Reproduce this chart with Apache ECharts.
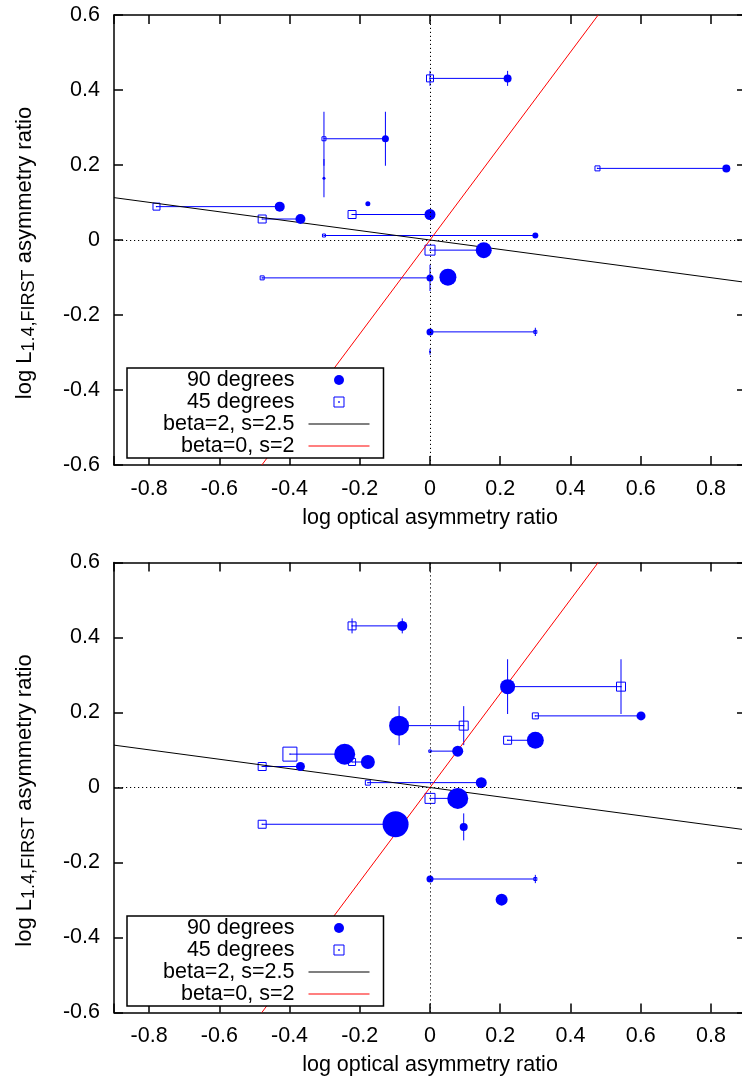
<!DOCTYPE html>
<html>
<head>
<meta charset="utf-8">
<script src="https://cdn.jsdelivr.net/npm/echarts@6/dist/echarts.min.js"></script>
<style>
html,body{margin:0;padding:0;background:#fff;}
#c{width:742px;height:1084px;}
</style>
</head>
<body>
<div id="c"></div>
<script>
// ---------------- data ----------------
const xTickLabels = ['-0.8','-0.6','-0.4','-0.2','0','0.2','0.4','0.6','0.8'];
const yTickLabels = ['-0.6','-0.4','-0.2','0','0.2','0.4','0.6'];
const xRange = [-0.9, 0.9];
const yRange = [-0.6, 0.6];

// top panel: radio asymmetry (y), optical asymmetry at 90 and 45 degrees (x), point sizes, y errors
const topY    = [0.431, 0.270, 0.191, 0.165, 0.097, 0.089, 0.068, 0.056, 0.012, -0.027, -0.099, -0.101, -0.245, -0.298];
const topX90  = [0.221, -0.127, 0.844, -0.302, -0.177, -0.428, 0.000, -0.369, 0.300, 0.153, 0.051, 0.000, 0.000, 0.000];
const topX45  = [0.000, -0.302, 0.477, null, null, -0.779, -0.222, -0.478, -0.302, 0.000, null, -0.478, 0.300, null];
const topPs90 = [2.0, 1.75, 2.0, 0.75, 1.25, 2.5, 2.75, 2.5, 1.5, 4.0, 4.25, 1.75, 1.75, 0.5];
const topPs45 = [1.75, 1.0, 1.25, null, null, 1.75, 2.0, 2.0, 0.75, 2.5, null, 1.0, 0.75, null];
const topE90  = [0.020, 0.072, 0, 0.051, 0, 0, 0, 0, 0, 0, 0, 0.035, 0, 0.008];
const topE45  = [0.020, 0.072, 0, 0, 0, 0, 0, 0, 0, 0, 0, 0, 0.011, 0];

// bottom panel
const botY    = [0.431, 0.269, 0.191, 0.165, 0.126, 0.097, 0.089, 0.068, 0.056, 0.013, -0.029, -0.098, -0.105, -0.244, -0.299];
const botX90  = [-0.079, 0.221, 0.601, -0.088, 0.300, 0.079, -0.243, -0.177, -0.369, 0.146, 0.079, -0.098, 0.096, 0.000, 0.204];
const botX45  = [-0.222, 0.544, 0.300, 0.096, 0.221, 0.000, -0.399, -0.222, -0.478, -0.177, 0.000, -0.478, null, 0.300, null];
const botPs90 = [2.5, 3.75, 2.25, 5.0, 4.25, 2.75, 5.25, 3.5, 2.25, 2.75, 5.25, 6.5, 2.0, 1.75, 3.0];
const botPs45 = [2.0, 2.25, 1.5, 2.25, 2.0, 0.6, 3.5, 1.75, 2.0, 1.25, 2.5, 2.0, null, 0.75, null];
const botE90  = [0.020, 0.073, 0, 0.052, 0, 0, 0, 0, 0, 0, 0, 0, 0.036, 0, 0];
const botE45  = [0.020, 0.073, 0, 0.052, 0, 0, 0, 0, 0, 0, 0, 0, 0, 0.011, 0];

// model lines (end points)
const blackLine = [[-0.9, 0.113], [0.9, -0.113]];
const redLine   = [[-0.479, -0.6], [0.479, 0.6]];

const seriesNames = ['90 degrees', '45 degrees', 'beta=2, s=2.5', 'beta=0, s=2'];

// ---------------- styling ----------------
const FONT = "'Liberation Sans', Arial, Helvetica, sans-serif";
const BLUE = '#0000ff';
const PS = 4; // px per point-size unit
const FS = 21.5;

function fmt(v) {
  const r = Math.round(v * 10) / 10;
  return (Math.abs(r) < 1e-9 ? 0 : r).toString();
}
function xFormatter(v) { const s = fmt(v); return xTickLabels.indexOf(s) >= 0 ? s : ''; }
function yFormatter(v) { const s = fmt(v); return yTickLabels.indexOf(s) >= 0 ? s : ''; }

const grids = [
  {left: 114, top: 15, width: 632, height: 450, outerBoundsMode: 'none', containLabel: false},
  {left: 114, top: 562.5, width: 632, height: 450, outerBoundsMode: 'none', containLabel: false}
];

const axisLine = {show: true, onZero: false, lineStyle: {color: '#000', width: 1.5}};
const axisTick = {show: true, inside: true, length: 9, lineStyle: {color: '#000', width: 1.5}};

const xAxes = [], yAxes = [];
[0, 1].forEach(g => {
  xAxes.push({
    gridIndex: g, type: 'value', position: 'bottom', min: xRange[0], max: xRange[1], splitNumber: 9,
    axisLine, axisTick, splitLine: {show: false},
    axisLabel: {margin: 13, fontSize: FS, fontFamily: FONT, color: '#000', formatter: xFormatter, showMinLabel: true, showMaxLabel: true, hideOverlap: false},
    name: 'log optical asymmetry ratio', nameLocation: 'middle', nameGap: 42, nameMoveOverlap: false,
    nameTextStyle: {fontSize: FS, fontFamily: FONT, color: '#000'}
  });
  xAxes.push({
    gridIndex: g, type: 'value', position: 'top', min: xRange[0], max: xRange[1], splitNumber: 9,
    axisLine, axisTick, splitLine: {show: false}, axisLabel: {show: false}
  });
  yAxes.push({
    gridIndex: g, type: 'value', position: 'left', min: yRange[0], max: yRange[1], interval: 0.2,
    axisLine, axisTick, splitLine: {show: false},
    axisLabel: {margin: 14, fontSize: FS, fontFamily: FONT, color: '#000', formatter: yFormatter, hideOverlap: false},
    name: '{a|log L}{s|1.4,FIRST}{a| asymmetry ratio}', nameLocation: 'middle', nameRotate: 90, nameGap: 76, nameMoveOverlap: false,
    nameTextStyle: {
      fontSize: 22, fontFamily: FONT, color: '#000', padding: [0, 26, 0, 0],
      rich: {
        a: {fontSize: 22, fontFamily: FONT, color: '#000', lineHeight: 26},
        s: {fontSize: 18, fontFamily: FONT, color: '#000', lineHeight: 19, verticalAlign: 'bottom'}
      }
    }
  });
  yAxes.push({
    gridIndex: g, type: 'value', position: 'right', min: yRange[0], max: yRange[1], interval: 0.2,
    axisLine, axisTick, splitLine: {show: false}, axisLabel: {show: false}
  });
});

function buildPanel(g, Y, X90, X45, P90, P45, E90, E45) {
  const circles = [], squares = [], links = [], errs = [];
  Y.forEach((y, i) => {
    circles.push([X90[i], y, P90[i]]);
    if (X45[i] != null) {
      squares.push([X45[i], y, P45[i]]);
      links.push([X90[i], X45[i], y]);
    }
    if (E90[i]) errs.push([X90[i], y, E90[i]]);
    if (E45[i]) errs.push([X45[i], y, E45[i]]);
  });
  const ax = {xAxisIndex: g * 2, yAxisIndex: g * 2};
  return [
    Object.assign({
      type: 'line', data: [], silent: true, z: 1,
      markLine: {
        silent: true, symbol: 'none', animation: false, label: {show: false},
        lineStyle: {color: '#000', width: 1, type: [1.2, 2.8]},
        emphasis: {disabled: true},
        data: [{xAxis: 0}, {yAxis: 0}]
      }
    }, ax),
    Object.assign({
      type: 'custom', data: links, silent: true, z: 2,
      renderItem: (p, api) => {
        const a = api.coord([api.value(0), api.value(2)]);
        const b = api.coord([api.value(1), api.value(2)]);
        return {type: 'line', shape: {x1: a[0], y1: a[1], x2: b[0], y2: b[1]}, style: {stroke: BLUE, lineWidth: 1}};
      }
    }, ax),
    Object.assign({
      type: 'custom', data: errs, silent: true, z: 2,
      renderItem: (p, api) => {
        const a = api.coord([api.value(0), api.value(1) - api.value(2)]);
        const b = api.coord([api.value(0), api.value(1) + api.value(2)]);
        return {type: 'line', shape: {x1: a[0], y1: a[1], x2: b[0], y2: b[1]}, style: {stroke: BLUE, lineWidth: 1}};
      }
    }, ax),
    Object.assign({
      type: 'custom', name: '45 degrees', data: squares, silent: true, z: 2,
      itemStyle: {color: BLUE},
      renderItem: (p, api) => {
        const c = api.coord([api.value(0), api.value(1)]);
        const s = api.value(2) * PS;
        return {type: 'group', children: [
          {type: 'rect', shape: {x: c[0] - s / 2, y: c[1] - s / 2, width: s, height: s}, style: {fill: 'none', stroke: BLUE, lineWidth: 1}},
          {type: 'rect', shape: {x: c[0] - 0.6, y: c[1] - 0.6, width: 1.2, height: 1.2}, style: {fill: BLUE}}
        ]};
      }
    }, ax),
    Object.assign({
      type: 'scatter', name: '90 degrees', data: circles, silent: true, z: 2,
      symbol: 'circle', symbolSize: v => v[2] * PS,
      itemStyle: {color: BLUE, opacity: 1},
      emphasis: {disabled: true}
    }, ax),
    Object.assign({
      type: 'line', name: 'beta=2, s=2.5', data: blackLine, symbol: 'none', silent: true, z: 2,
      lineStyle: {color: '#000', width: 1}, itemStyle: {color: '#000'}, emphasis: {disabled: true}
    }, ax),
    Object.assign({
      type: 'line', name: 'beta=0, s=2', data: redLine, symbol: 'none', silent: true, z: 2,
      lineStyle: {color: '#ff0000', width: 1}, itemStyle: {color: '#ff0000'}, emphasis: {disabled: true}
    }, ax)
  ];
}

function mkLegend(top) {
  return {
    orient: 'vertical', align: 'right', left: 127, top: top,
    itemWidth: 61, itemHeight: 10, itemGap: 0, padding: [1, 14, 1, 36],
    backgroundColor: '#fff', borderColor: '#000', borderWidth: 1.5, borderRadius: 0,
    selectedMode: false, symbolKeepAspect: true, z: 10,
    textStyle: {fontSize: FS, lineHeight: 21.5, fontFamily: FONT, color: '#000', padding: [0, 9, 0, 0]},
    data: [
      {name: seriesNames[0], icon: 'circle', itemStyle: {color: BLUE, borderWidth: 0}},
      {name: seriesNames[1], icon: 'path://M0 0H10V10H0Z M4.6 4.6H5.4V5.4H4.6Z',
        itemStyle: {color: 'rgba(0,0,0,0)', borderColor: BLUE, borderWidth: 1}},
      {name: seriesNames[2], icon: 'path://M0 0H61V1H0Z', itemStyle: {color: '#000', borderWidth: 0}},
      {name: seriesNames[3], icon: 'path://M0 0H61V1H0Z', itemStyle: {color: '#ff0000', borderWidth: 0}}
    ]
  };
}

const chart = echarts.init(document.getElementById('c'), null, {renderer: 'canvas'});
chart.setOption({
  animation: false,
  backgroundColor: '#fff',
  grid: grids,
  xAxis: xAxes,
  yAxis: yAxes,
  legend: [mkLegend(368), mkLegend(916)],
  series: [].concat(
    buildPanel(0, topY, topX90, topX45, topPs90, topPs45, topE90, topE45),
    buildPanel(1, botY, botX90, botX45, botPs90, botPs45, botE90, botE45)
  )
});
</script>
</body>
</html>
